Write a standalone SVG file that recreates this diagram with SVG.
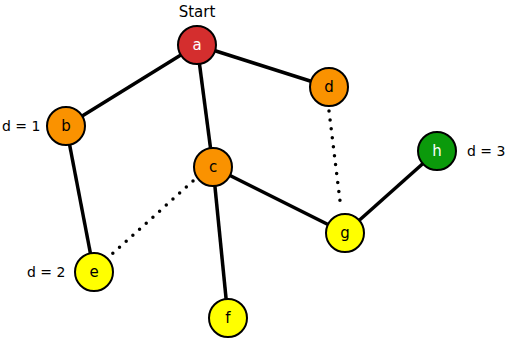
<svg xmlns="http://www.w3.org/2000/svg" width="508" height="338" viewBox="0 0 508 338">
<style>
.e{stroke:#000;stroke-width:3.5;fill:none}
.dot{stroke:#000;stroke-width:3.5;fill:none;stroke-dasharray:0 9;stroke-linecap:round}
circle{stroke:#000;stroke-width:2}
.red{fill:#d42e2e}.or{fill:#fa9200}.ye{fill:#ffff00}.gr{fill:#0b9a0b}
text{font-family:"DejaVu Sans","Noto Sans",sans-serif;font-size:14px}
.n{text-anchor:middle;font-size:15px}
.w{fill:#fff}
</style>
<rect width="508" height="338" fill="#fff"/>
<g id="connectors">
<line class="e" x1="197" y1="45" x2="66" y2="126"/>
<line class="e" x1="197" y1="45" x2="213" y2="167"/>
<line class="e" x1="197" y1="45" x2="329" y2="87"/>
<line class="e" x1="66" y1="126" x2="94" y2="272"/>
<line class="e" x1="213" y1="167" x2="228" y2="318"/>
<line class="e" x1="213" y1="167" x2="345" y2="233"/>
<line class="e" x1="345" y1="233" x2="437" y2="151"/>
<line class="dot" x1="329" y1="111" x2="341" y2="209"/>
<line class="dot" x1="193" y1="181" x2="111" y2="255"/>
</g>
<g id="a"><circle class="red" cx="197" cy="45" r="19"/><text class="n w" x="197" y="50">a</text><text class="n" x="197" y="17">Start</text></g>
<g id="b"><circle class="or" cx="66" cy="126" r="19"/><text class="n" x="66" y="131">b</text><text x="2" y="131">d = 1</text></g>
<g id="c"><circle class="or" cx="213" cy="167" r="19"/><text class="n" x="213" y="172">c</text></g>
<g id="d"><circle class="or" cx="329" cy="87" r="19"/><text class="n" x="329" y="92">d</text></g>
<g id="e"><circle class="ye" cx="94" cy="272" r="19"/><text class="n" x="94" y="277">e</text><text x="27" y="277">d = 2</text></g>
<g id="f"><circle class="ye" cx="228" cy="318" r="19"/><text class="n" x="228" y="323">f</text></g>
<g id="g"><circle class="ye" cx="345" cy="233" r="19"/><text class="n" x="345" y="238">g</text></g>
<g id="h"><circle class="gr" cx="437" cy="151" r="19"/><text class="n w" x="437" y="156">h</text><text x="467" y="156">d = 3</text></g>
</svg>
